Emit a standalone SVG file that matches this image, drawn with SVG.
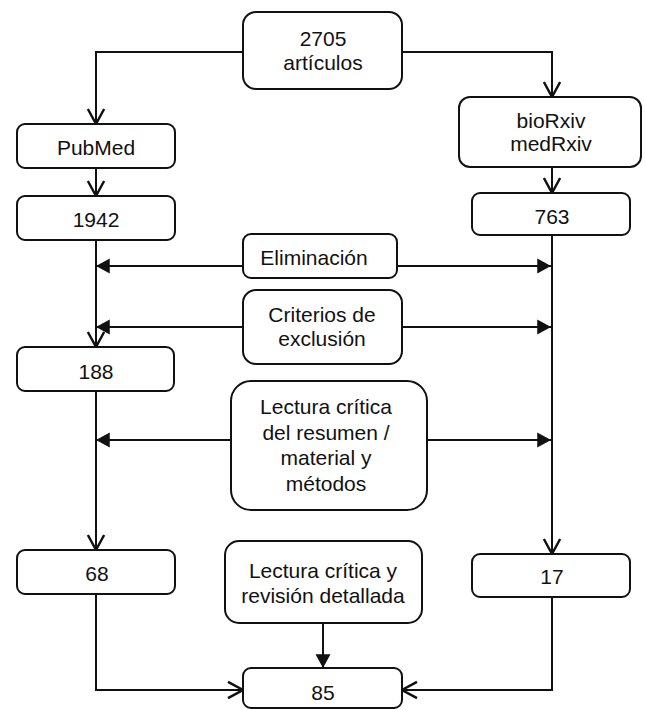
<svg xmlns="http://www.w3.org/2000/svg" width="645" height="710" viewBox="0 0 645 710">
<style>
.box{fill:#fff;stroke:#111;stroke-width:2}
.t{font-family:"Liberation Sans",Arial,sans-serif;font-size:21px;fill:#111;text-anchor:middle;dominant-baseline:central}
.c{fill:none;stroke:#111;stroke-width:2}
.o{marker-end:url(#open)}
.f{marker-end:url(#fill)}
</style>
<defs>
<marker id="open" markerUnits="userSpaceOnUse" orient="auto" markerWidth="20" markerHeight="20" refX="0" refY="0" viewBox="-14 -8 16 16" overflow="visible">
<path d="M-12,-6.5 L0,0 L-12,6.5" fill="none" stroke="#111" stroke-width="2"/>
</marker>
<marker id="fill" markerUnits="userSpaceOnUse" orient="auto" markerWidth="20" markerHeight="20" refX="0" refY="0" viewBox="-14 -8 16 16" overflow="visible">
<path d="M-11,-6 L0,0 L-11,6 Z" fill="#111" stroke="none"/>
</marker>
</defs>
<rect width="645" height="710" fill="#fff"/>
<g id="connectors">
<path class="c o" d="M244,52 H96 V124"/>
<path class="c o" d="M402,52 H552 V97"/>
<path class="c o" d="M96,168 V196"/>
<path class="c o" d="M552,167 V193"/>
<path class="c o" d="M96,240 V347"/>
<path class="c o" d="M96,391 V550"/>
<path class="c o" d="M552,235 V554"/>
<path class="c f" d="M243,266 H96"/>
<path class="c f" d="M397,266 H551"/>
<path class="c f" d="M243,327 H96"/>
<path class="c f" d="M402,327 H551"/>
<path class="c f" d="M231,440 H96"/>
<path class="c f" d="M427,440 H551"/>
<path class="c f" d="M323,623 V668"/>
<path class="c o" d="M96,594 V690 H243"/>
<path class="c o" d="M552,597 V690 H402"/>
</g>
<g id="n2705"><rect class="box" x="243" y="12" width="159" height="77" rx="13"/><text class="t" x="323" y="38">2705</text><text class="t" x="323" y="62">artículos</text></g>
<g id="pubmed"><rect class="box" x="17" y="124" width="158" height="44" rx="8"/><text class="t" x="96" y="147">PubMed</text></g>
<g id="biorxiv"><rect class="box" x="459" y="97" width="182" height="70" rx="11"/><text class="t" x="551" y="120">bioRxiv</text><text class="t" x="551" y="143">medRxiv</text></g>
<g id="n1942"><rect class="box" x="17" y="196" width="158" height="44" rx="8"/><text class="t" x="96" y="219">1942</text></g>
<g id="n763"><rect class="box" x="472" y="193" width="158" height="42" rx="8"/><text class="t" x="552" y="216">763</text></g>
<g id="eliminacion"><rect class="box" x="243" y="234" width="154" height="44" rx="8"/><text class="t" x="314" y="257">Eliminación</text></g>
<g id="criterios"><rect class="box" x="243" y="290" width="159" height="74" rx="13"/><text class="t" x="322" y="314">Criterios de</text><text class="t" x="322" y="338">exclusión</text></g>
<g id="n188"><rect class="box" x="17" y="347" width="157" height="44" rx="8"/><text class="t" x="96" y="371">188</text></g>
<g id="lectura1"><rect class="box" x="231" y="381" width="196" height="129" rx="20"/><text class="t" x="326" y="406">Lectura crítica</text><text class="t" x="326" y="432">del resumen /</text><text class="t" x="326" y="457">material y</text><text class="t" x="326" y="483">métodos</text></g>
<g id="n68"><rect class="box" x="17" y="550" width="158" height="44" rx="8"/><text class="t" x="97" y="573">68</text></g>
<g id="lectura2"><rect class="box" x="225" y="541" width="197" height="82" rx="14"/><text class="t" x="323" y="570">Lectura crítica y</text><text class="t" x="323" y="595">revisión detallada</text></g>
<g id="n17"><rect class="box" x="472" y="554" width="158" height="43" rx="8"/><text class="t" x="552" y="576">17</text></g>
<g id="n85"><rect class="box" x="243" y="668" width="159" height="40" rx="8"/><text class="t" x="323" y="692">85</text></g>
</svg>
